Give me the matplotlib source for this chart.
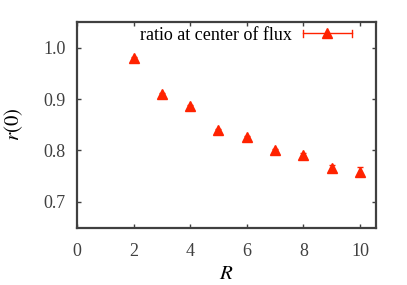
import numpy as np
import matplotlib
matplotlib.use("Agg")
import matplotlib.pyplot as plt
from matplotlib.lines import Line2D
from matplotlib.legend_handler import HandlerBase

R = [2, 3, 4, 5, 6, 7, 8, 9, 10]
r0 = [0.980, 0.910, 0.887, 0.840, 0.826, 0.800, 0.792, 0.766, 0.759]
r0_err = [0.002, 0.002, 0.002, 0.002, 0.002, 0.002, 0.003, 0.005, 0.009]

plt.rcParams['font.family'] = ['Liberation Serif', 'DejaVu Serif']
plt.rcParams['mathtext.fontset'] = 'stix'

red = '#ff2200'


class BarHandler(HandlerBase):
    # gnuplot style key: horizontal bar with caps and marker in the middle
    def create_artists(self, legend, orig, xd, yd, w, h, fs, trans):
        y = h / 2 - yd
        c = 2.5
        arts = [Line2D([-xd, -xd + w], [y, y], color=red, lw=1),
                Line2D([-xd, -xd], [y - c, y + c], color=red, lw=1),
                Line2D([-xd + w, -xd + w], [y - c, y + c], color=red, lw=1),
                Line2D([-xd + w / 2], [y], marker='^', ms=7, color=red, ls='')]
        for a in arts:
            a.set_transform(trans)
        return arts


fig = plt.figure(figsize=(4.07, 2.85), dpi=100)
ax = fig.add_axes([77 / 407, 1 - 227.5 / 285, 298.5 / 407, 205.5 / 285])

eb = ax.errorbar(R, r0, yerr=r0_err, fmt='^', color=red, ms=7, elinewidth=1,
                 capsize=2)

ax.set_xlim(0, 10.55)
ax.set_ylim(0.65, 1.05)
ax.set_xticks([0, 2, 4, 6, 8, 10])
ax.set_yticks([0.7, 0.8, 0.9, 1.0])
ax.set_yticklabels(['0.7', '0.8', '0.9', '1.0'])
ax.set_xlabel('$R$', fontsize=15, labelpad=4)
ax.set_ylabel('$r(0)$', fontsize=15, labelpad=13)

for s in ax.spines.values():
    s.set_linewidth(1.6)
    s.set_color('#404040')
ax.tick_params(direction='in', top=True, right=True, length=3, width=1,
               color='#404040', labelsize=13, labelcolor='#404040')
ax.tick_params(axis='x', pad=11)
ax.tick_params(axis='y', pad=8)

proxy = Line2D([], [], color=red)
ax.legend([proxy], ['ratio at center of flux'], handler_map={proxy: BarHandler()},
          loc='upper right', bbox_to_anchor=(0.945, 1.012), frameon=False,
          markerfirst=False, fontsize=13, handlelength=2.7, borderaxespad=0,
          handletextpad=0.6)

fig.savefig('out.png', dpi=100)
